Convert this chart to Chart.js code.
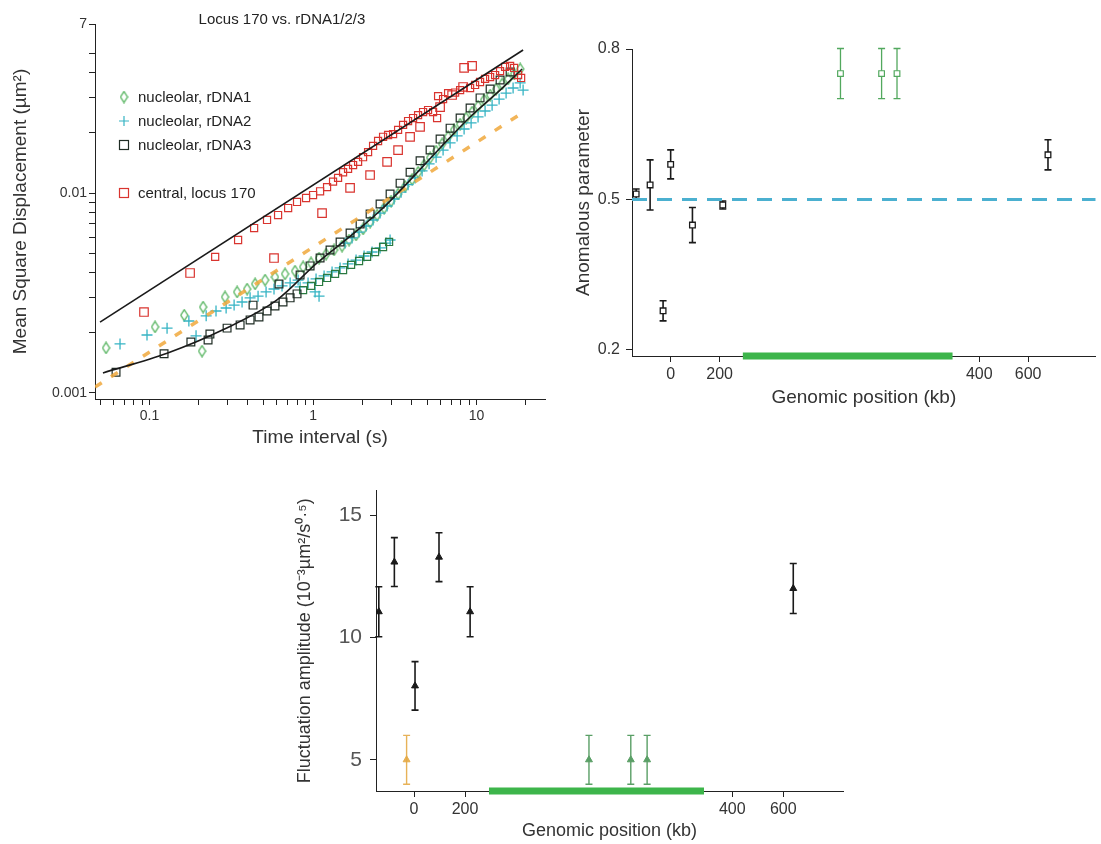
<!DOCTYPE html>
<html>
<head>
<meta charset="utf-8">
<script src="https://cdn.jsdelivr.net/npm/chart.js@4.4.0/dist/chart.umd.min.js"></script>
<style>
  body { margin: 0; background: #fff; }
  #wrap { position: relative; width: 1101px; height: 844px; overflow: hidden; }
  canvas { position: absolute; }
</style>
</head>
<body>
<div id="wrap">
  <canvas id="msd" width="560" height="455" style="left:0;top:0"></canvas>
  <canvas id="alpha" width="536" height="420" style="left:565px;top:0"></canvas>
  <canvas id="amp" width="560" height="374" style="left:290px;top:470px"></canvas>
</div>
<script>
// ---- panel A: MSD vs time interval (log-log) ----
const timeTickValues = [0.05, 0.06, 0.07, 0.08, 0.09, 0.1, 0.2, 0.3, 0.4, 0.5, 0.6, 0.7, 0.8, 0.9, 1, 2, 3, 4, 5, 6, 7, 8, 9, 10, 20];
const timeTickLabels = ['', '', '', '', '', '0.1', '', '', '', '', '', '', '', '', '1', '', '', '', '', '', '', '', '', '10', ''];
const msdTickValues = [0.001, 0.002, 0.003, 0.004, 0.005, 0.006, 0.007, 0.008, 0.009, 0.01, 0.02, 0.03, 0.04, 0.05, 0.07];
const msdTickLabels = ['0.001', '', '', '', '', '', '', '', '', '0.01', '', '', '', '', '7'];

const locusT = [0.252, 0.348, 0.436, 0.523, 0.611, 0.704, 0.798, 0.906, 1.0, 1.104, 1.218, 1.325, 1.422, 1.526, 1.637, 1.757, 1.885, 2.022, 2.170, 2.328, 2.498, 2.680, 2.876, 3.085, 3.311, 3.552, 3.811, 4.089, 4.387, 4.707, 5.050, 5.420, 5.734, 5.815, 6.239, 6.694, 7.389, 7.929, 9.125, 9.790, 10.50, 11.27, 12.10, 12.98, 13.92, 14.94, 16.03, 16.96, 17.94, 18.72];
const locusMsd = [0.00479, 0.00582, 0.00668, 0.00733, 0.00776, 0.00841, 0.00902, 0.00944, 0.00977, 0.0102, 0.0107, 0.0114, 0.0119, 0.0127, 0.0132, 0.0138, 0.0143, 0.0151, 0.0160, 0.0172, 0.0182, 0.0191, 0.0195, 0.0197, 0.0207, 0.0219, 0.0229, 0.0237, 0.0245, 0.0254, 0.0260, 0.0254, 0.0237, 0.0305, 0.0295, 0.0316, 0.0318, 0.0327, 0.0335, 0.0347, 0.0359, 0.0372, 0.0380, 0.0389, 0.0407, 0.0427, 0.0432, 0.0422, 0.0389, 0.0376];
const locusSparseT = [0.0925, 0.177, 0.577, 1.135, 1.684, 2.232, 2.836, 3.311, 3.920, 4.512, 5.981, 7.083, 8.270, 8.387, 9.387];
const locusSparseMsd = [0.00254, 0.00398, 0.00473, 0.00794, 0.0106, 0.0123, 0.0143, 0.0164, 0.0191, 0.0214, 0.0269, 0.0309, 0.0339, 0.0422, 0.0432];

const rdna1T = [0.0542, 0.108, 0.163, 0.2125, 0.2095, 0.2895, 0.343, 0.395, 0.442, 0.509, 0.585, 0.674, 0.776, 0.869, 0.972, 1.088, 1.201, 1.344, 1.504, 1.660, 1.832, 2.022, 2.232, 2.463, 2.719, 3.000, 3.311, 3.653, 4.032, 4.387, 4.774, 5.195, 5.654, 6.152, 6.694, 7.286, 7.929, 8.627, 9.387, 10.21, 11.11, 12.10, 13.16, 14.32, 15.58, 16.96, 18.46];
const rdna1Msd = [0.00168, 0.00214, 0.00245, 0.00269, 0.00162, 0.00302, 0.00320, 0.00331, 0.00351, 0.00367, 0.00380, 0.00394, 0.00407, 0.00427, 0.00447, 0.00473, 0.00495, 0.00519, 0.00543, 0.00582, 0.00617, 0.00661, 0.00716, 0.00776, 0.00841, 0.00912, 0.00989, 0.0108, 0.0117, 0.0127, 0.0138, 0.0150, 0.0162, 0.0176, 0.0191, 0.0207, 0.0221, 0.0237, 0.0254, 0.0272, 0.0292, 0.0309, 0.0331, 0.0351, 0.0372, 0.0394, 0.0417];

const rdna2T = [0.0660, 0.0965, 0.128, 0.174, 0.1925, 0.222, 0.255, 0.294, 0.329, 0.368, 0.412, 0.461, 0.516, 0.577, 0.646, 0.724, 0.810,
  0.833, 0.932, 1.043, 1.168, 1.307, 1.463, 1.637, 1.832, 2.051, 2.296, 2.569, 2.797, 2.958, 1.029, 1.088,
  1.569, 1.732, 1.911, 2.110, 2.328, 2.569, 2.836, 3.129, 3.453, 3.811, 4.206, 4.642, 5.122, 5.654, 6.239, 6.886, 7.600, 8.387, 9.257, 10.21, 11.27, 12.44, 13.73, 15.15, 16.72, 18.46, 19.25];
const rdna2Msd = [0.00176, 0.00195, 0.00211, 0.00229, 0.00193, 0.00243, 0.00257, 0.00266, 0.00275, 0.00285, 0.00299, 0.00305, 0.00320, 0.00331, 0.00343, 0.00355, 0.00367,
  0.00339, 0.00355, 0.00372, 0.00385, 0.00403, 0.00422, 0.00442, 0.00462, 0.00484, 0.00507, 0.00531, 0.00562, 0.00582, 0.00320, 0.00305,
  0.00562, 0.00596, 0.00638, 0.00684, 0.00733, 0.00794, 0.00861, 0.00933, 0.0101, 0.0110, 0.0119, 0.0129, 0.0140, 0.0151, 0.0164, 0.0178, 0.0193, 0.0209, 0.0224, 0.0240, 0.0257, 0.0275, 0.0295, 0.0316, 0.0335, 0.0355, 0.0327];

const rdna3T = [0.0624, 0.1227, 0.179, 0.228, 0.234, 0.298, 0.358, 0.412, 0.4295, 0.467, 0.523, 0.585, 0.619, 0.655, 0.724, 0.798,
  0.833, 0.959, 1.104, 1.270, 1.463, 1.684, 1.939, 2.232, 2.569, 2.958, 3.405, 3.920, 4.512, 5.195, 5.981, 6.886, 7.929, 9.125, 10.50, 12.10, 13.92, 16.03];
const rdna3Msd = [0.00127, 0.00157, 0.00180, 0.00184, 0.00197, 0.00211, 0.00219, 0.00232, 0.00275, 0.00240, 0.00257, 0.00272, 0.00351, 0.00285, 0.00299, 0.00313,
  0.00389, 0.00432, 0.00473, 0.00519, 0.00569, 0.00631, 0.00700, 0.00785, 0.00881, 0.00989, 0.0112, 0.0127, 0.0145, 0.0164, 0.0186, 0.0211, 0.0237, 0.0266, 0.0299, 0.0331, 0.0367, 0.0403];
// second, slower rDNA3 trajectory (dark green)
const rdna3LowT = [0.869, 0.972, 1.088, 1.218, 1.363, 1.526, 1.708, 1.911, 2.140, 2.394, 2.680, 2.917];
const rdna3LowMsd = [0.00327, 0.00343, 0.00359, 0.00376, 0.00394, 0.00412, 0.00437, 0.00457, 0.00479, 0.00507, 0.00537, 0.00569];

// fitted curves
const fitLocusT = [0.0498, 19.25];
const fitLocusMsd = [0.00226, 0.0519];
const fitRdnaT = [0.0519, 0.128, 0.281, 0.602, 1.058, 1.757, 2.680, 3.920, 5.981, 9.125, 13.92, 18.98];
const fitRdnaMsd = [0.00126, 0.00158, 0.00207, 0.00292, 0.00447, 0.00624, 0.00841, 0.0116, 0.0168, 0.0240, 0.0327, 0.0417];
const slopeHalfT = [0.0464, 18.98];
const slopeHalfMsd = [0.00107, 0.0251];

// ---- panel B: anomalous parameter vs genomic position ----
// x in axis units: kb left of the rDNA gap, kb + 861 right of it
const posTickValuesB = [0, 200, 1261, 1461];
const posTickLabels = ['0', '200', '400', '600'];
const lociPosB = [-141, -84, -31, 0, 89, 213, 1542];
const lociAlpha = [0.511, 0.529, 0.278, 0.570, 0.449, 0.489, 0.589];
const lociAlphaErr = [0.010, 0.050, 0.020, 0.029, 0.035, 0.008, 0.030];
const rdnaPosB = [694, 862, 925];
const rdnaAlpha = [0.751, 0.751, 0.751];
const rdnaAlphaErr = [0.05, 0.05, 0.05];
const rdnaSpanB = [295, 1152];
const alphaRef = 0.5;

// ---- panel C: fluctuation amplitude vs genomic position ----
const posTickValuesC = [0, 200, 1248, 1448];
const lociPosC = [-138, -77, 4, 98, 220, 1487];
const lociAmp = [11.05, 13.08, 8.02, 13.28, 11.05, 12.0];
const lociAmpErr = [1.02, 1.0, 0.99, 1.0, 1.02, 1.02];
const centroPosC = [-29];
const centroAmp = [5];
const centroAmpErr = [1];
const rdnaPosC = [686, 850, 914];
const rdnaAmp = [5, 5, 5];
const rdnaAmpErr = [1, 1, 1];
const rdnaSpanC = [294, 1137];

const FONT = '"Liberation Sans", Arial, Helvetica, sans-serif';
Chart.defaults.font.family = FONT;
Chart.defaults.color = '#333';

const RED = '#d9342f';
const GREEN = '#44ac4e';
const CYAN = '#36b4c4';
const DARK = '#1f2c24';
const DKGREEN = '#2b7a41';

const pts = (xs, ys) => xs.map((x, i) => ({ x, y: ys[i] }));

function makeDiamond(color) {
    const c = document.createElement('canvas');
    c.width = 9;
    c.height = 13;
    const g = c.getContext('2d');
    g.strokeStyle = color;
    g.lineWidth = 1.2;
    g.beginPath();
    g.moveTo(4.5, 1);
    g.lineTo(8, 6.5);
    g.lineTo(4.5, 12);
    g.lineTo(1, 6.5);
    g.closePath();
    g.stroke();
    return c;
}
const diamond = makeDiamond(GREEN);

// vertical error bars with caps, drawn through the chart's own y scale
const errorBars = {
    id: 'errorBars',
    beforeDatasetsDraw(chart) {
        const ctx = chart.ctx;
        const ys = chart.scales.y;
        chart.data.datasets.forEach((ds, i) => {
            if (!ds.yErr) return;
            const meta = chart.getDatasetMeta(i);
            ctx.save();
            ctx.strokeStyle = ds.errColor || ds.borderColor;
            ctx.lineWidth = ds.errWidth || 1.5;
            meta.data.forEach((pt, j) => {
                const v = ds.data[j].y, e = ds.yErr[j];
                const top = ys.getPixelForValue(v + e);
                const bot = ys.getPixelForValue(v - e);
                ctx.beginPath();
                ctx.moveTo(pt.x, top); ctx.lineTo(pt.x, bot);
                ctx.moveTo(pt.x - 3.5, top); ctx.lineTo(pt.x + 3.5, top);
                ctx.moveTo(pt.x - 3.5, bot); ctx.lineTo(pt.x + 3.5, bot);
                ctx.stroke();
            });
            ctx.restore();
        });
    }
};

// title + in-plot legend for panel A
const legendA = {
    id: 'legendA',
    afterDraw(chart) {
        const ctx = chart.ctx;
        ctx.save();
        ctx.fillStyle = '#222';
        ctx.textBaseline = 'middle';
        ctx.textAlign = 'center';
        ctx.font = '15px ' + FONT;
        ctx.fillText('Locus 170 vs. rDNA1/2/3', 282, 20);
        ctx.textAlign = 'left';
        ctx.font = '15px ' + FONT;
        const rows = [
            { text: 'nucleolar, rDNA1', y: 97, kind: 'diamond', color: GREEN },
            { text: 'nucleolar, rDNA2', y: 121, kind: 'cross', color: CYAN },
            { text: 'nucleolar, rDNA3', y: 145, kind: 'square', color: DARK },
            { text: 'central, locus 170', y: 193, kind: 'square', color: RED }
        ];
        const mx = 124;
        rows.forEach(r => {
            ctx.strokeStyle = r.color;
            ctx.lineWidth = 1.2;
            if (r.kind === 'diamond') {
                ctx.drawImage(diamond, mx - 4.5, r.y - 6.5);
            } else if (r.kind === 'cross') {
                ctx.beginPath();
                ctx.moveTo(mx - 5, r.y); ctx.lineTo(mx + 5, r.y);
                ctx.moveTo(mx, r.y - 5); ctx.lineTo(mx, r.y + 5);
                ctx.stroke();
            } else {
                ctx.strokeRect(mx - 4.5, r.y - 4.5, 9, 9);
            }
            ctx.fillStyle = '#222';
            ctx.fillText(r.text, 138, r.y + 1);
        });
        ctx.restore();
    }
};

const axisLine = { color: '#222', width: 1 };
const tickGrid = { drawOnChartArea: false, drawTicks: true, tickLength: 6, tickColor: '#222' };

new Chart(document.getElementById('msd'), {
    type: 'scatter',
    data: {
        datasets: [
            { data: pts(fitLocusT, fitLocusMsd), showLine: true, borderColor: '#1a1a1a', borderWidth: 1.6, pointRadius: 0 },
            { data: pts(fitRdnaT, fitRdnaMsd), showLine: true, borderColor: '#1a1a1a', borderWidth: 1.6, pointRadius: 0, tension: 0.4, cubicInterpolationMode: 'monotone' },
            { data: pts(slopeHalfT, slopeHalfMsd), showLine: true, borderColor: 'rgba(240,168,60,0.85)', borderWidth: 3.5, borderDash: [8, 11], pointRadius: 0 },
            { data: pts(locusT, locusMsd), pointStyle: 'rect', pointRadius: 5, borderColor: RED, borderWidth: 1.2, backgroundColor: 'rgba(0,0,0,0)' },
            { data: pts(locusSparseT, locusSparseMsd), pointStyle: 'rect', pointRadius: 6, borderColor: RED, borderWidth: 1.2, backgroundColor: 'rgba(0,0,0,0)' },
            { data: pts(rdna3T, rdna3Msd), pointStyle: 'rect', pointRadius: 5.5, borderColor: DARK, borderWidth: 1.2, backgroundColor: 'rgba(0,0,0,0)' },
            { data: pts(rdna3LowT, rdna3LowMsd), pointStyle: 'rect', pointRadius: 5, borderColor: DKGREEN, borderWidth: 1.2, backgroundColor: 'rgba(0,0,0,0)' },
            { data: pts(rdna2T, rdna2Msd), pointStyle: 'cross', pointRadius: 5.5, borderColor: CYAN, borderWidth: 1.3 },
            { data: pts(rdna1T, rdna1Msd), pointStyle: diamond, pointRadius: 5 }
        ]
    },
    options: {
        responsive: false,
        devicePixelRatio: 1,
        animation: false,
        events: [],
        layout: { padding: { top: 24, right: 15, left: 0, bottom: 0 } },
        plugins: { legend: { display: false }, tooltip: { enabled: false } },
        scales: {
            x: {
                type: 'logarithmic', min: 0.0464, max: 26.2,
                afterFit: s => { s.height = 56; },
                afterBuildTicks: s => { s.ticks = timeTickValues.map(v => ({ value: v })); },
                ticks: { autoSkip: false, maxRotation: 0, font: { size: 14 }, color: '#333', padding: 3, callback: (v, i) => timeTickLabels[i] },
                grid: tickGrid, border: axisLine,
                title: { display: true, text: 'Time interval (s)', font: { size: 19 }, color: '#333', padding: 6 }
            },
            y: {
                type: 'logarithmic', min: 0.000933, max: 0.07,
                afterFit: s => { s.width = 95; },
                afterBuildTicks: s => { s.ticks = msdTickValues.map(v => ({ value: v })); },
                ticks: { autoSkip: false, font: { size: 14 }, color: '#333', padding: 2, callback: (v, i) => msdTickLabels[i] },
                grid: tickGrid, border: axisLine,
                title: { display: true, text: 'Mean Square Displacement (µm²)', font: { size: 19 }, color: '#333', padding: 9 }
            }
        }
    },
    plugins: [legendA]
});

new Chart(document.getElementById('alpha'), {
    type: 'scatter',
    data: {
        datasets: [
            { data: pts(lociPosB, lociAlpha), yErr: lociAlphaErr, errColor: '#1a1a1a', errWidth: 1.6, pointStyle: 'rect', pointRadius: 4, borderColor: '#1a1a1a', borderWidth: 1.3, backgroundColor: '#fff' },
            { data: pts(rdnaPosB, rdnaAlpha), yErr: rdnaAlphaErr, errColor: '#52a85e', errWidth: 1.3, pointStyle: 'rect', pointRadius: 4, borderColor: '#52a85e', borderWidth: 1.2, backgroundColor: '#fff' },
            { data: pts([-158, 1737], [alphaRef, alphaRef]), showLine: true, borderColor: '#4bb0d0', borderWidth: 3, borderDash: [15, 10], pointRadius: 0 },
            { data: pts(rdnaSpanB, [0.188, 0.188]), showLine: true, borderColor: '#3db54b', borderWidth: 7, pointRadius: 0, clip: false }
        ]
    },
    options: {
        responsive: false,
        devicePixelRatio: 1,
        animation: false,
        events: [],
        layout: { padding: { top: 49, right: 0, left: 0, bottom: 0 } },
        plugins: { legend: { display: false }, tooltip: { enabled: false } },
        scales: {
            x: {
                type: 'linear', min: -158, max: 1737,
                afterFit: s => { s.height = 64; },
                afterBuildTicks: s => { s.ticks = posTickValuesB.map(v => ({ value: v })); },
                ticks: { autoSkip: false, maxRotation: 0, font: { size: 16 }, color: '#333', padding: 3, callback: (v, i) => posTickLabels[i] },
                grid: tickGrid, border: axisLine,
                title: { display: true, text: 'Genomic position (kb)', font: { size: 19 }, color: '#333', padding: 11 }
            },
            y: {
                type: 'linear', min: 0.188, max: 0.8,
                afterFit: s => { s.width = 67; },
                afterBuildTicks: s => { s.ticks = [0.2, 0.5, 0.8].map(v => ({ value: v })); },
                ticks: { autoSkip: false, font: { size: 16 }, color: '#333', padding: 6, callback: v => v.toFixed(1) },
                grid: tickGrid, border: axisLine,
                title: { display: true, text: 'Anomalous parameter', font: { size: 19 }, color: '#333', padding: 7 }
            }
        }
    },
    plugins: [errorBars]
});

new Chart(document.getElementById('amp'), {
    type: 'scatter',
    data: {
        datasets: [
            { data: pts(lociPosC, lociAmp), yErr: lociAmpErr, errColor: '#1a1a1a', errWidth: 1.6, pointStyle: 'triangle', pointRadius: 4, borderColor: '#1a1a1a', borderWidth: 1, backgroundColor: '#1a1a1a' },
            { data: pts(centroPosC, centroAmp), yErr: centroAmpErr, errColor: 'rgba(228,170,70,0.9)', errWidth: 1.4, pointStyle: 'triangle', pointRadius: 4, borderColor: 'rgba(228,170,70,0.9)', backgroundColor: 'rgba(228,170,70,0.9)' },
            { data: pts(rdnaPosC, rdnaAmp), yErr: rdnaAmpErr, errColor: '#5a9f66', errWidth: 1.4, pointStyle: 'triangle', pointRadius: 4, borderColor: '#5a9f66', backgroundColor: '#5a9f66' },
            { data: pts(rdnaSpanC, [3.725, 3.725]), showLine: true, borderColor: '#3db54b', borderWidth: 7, pointRadius: 0, clip: false }
        ]
    },
    options: {
        responsive: false,
        devicePixelRatio: 1,
        animation: false,
        events: [],
        layout: { padding: { top: 13, right: 7, left: 0, bottom: 0 } },
        plugins: { legend: { display: false }, tooltip: { enabled: false } },
        scales: {
            x: {
                type: 'linear', min: -149, max: 1682,
                afterFit: s => { s.height = 53; },
                afterBuildTicks: s => { s.ticks = posTickValuesC.map(v => ({ value: v })); },
                ticks: { autoSkip: false, maxRotation: 0, font: { size: 16 }, color: '#333', padding: 3, callback: (v, i) => posTickLabels[i] },
                grid: tickGrid, border: axisLine,
                title: { display: true, text: 'Genomic position (kb)', font: { size: 18 }, color: '#333', padding: 2 }
            },
            y: {
                type: 'linear', min: 3.725, max: 16,
                afterFit: s => { s.width = 86; },
                afterBuildTicks: s => { s.ticks = [5, 10, 15].map(v => ({ value: v })); },
                ticks: { autoSkip: false, font: { size: 21 }, color: '#555', padding: 8, callback: v => String(v) },
                grid: tickGrid, border: axisLine,
                title: { display: true, text: 'Fluctuation amplitude (10⁻³µm²/s⁰·⁵)', font: { size: 18 }, color: '#333', padding: 4 }
            }
        }
    },
    plugins: [errorBars]
});
</script>
</body>
</html>
